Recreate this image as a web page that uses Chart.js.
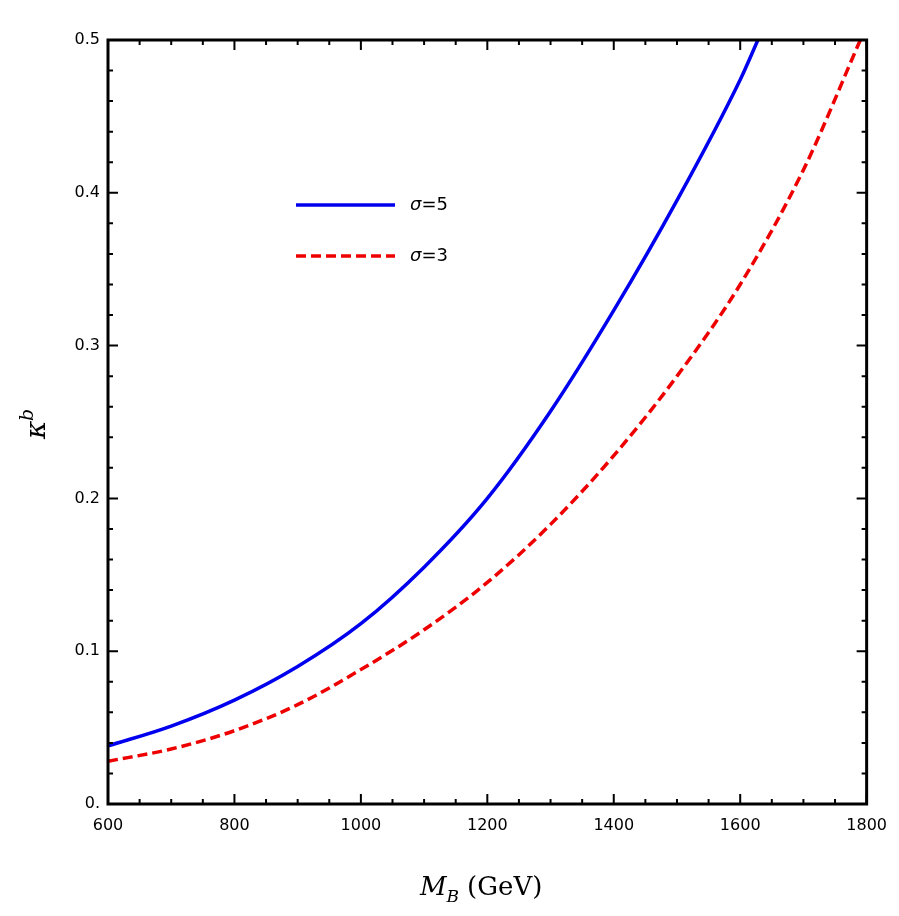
<!DOCTYPE html>
<html><head><meta charset="utf-8">
<script src="https://cdn.jsdelivr.net/npm/chart.js@4"></script>
<style>body{margin:0;background:#fff}#wrap{width:899px;height:916px}</style>
</head><body><div id="wrap"><canvas id="c"></canvas></div>
<script>
// values
const massBlue = [600, 700, 800, 900, 1000, 1100, 1200, 1300, 1400, 1500, 1600, 1628];
const kappaBlue = [0.038, 0.051, 0.068, 0.090, 0.118, 0.155, 0.200, 0.257, 0.323, 0.395, 0.474, 0.5];
const massRed = [600, 700, 800, 900, 1000, 1100, 1200, 1300, 1400, 1500, 1600, 1700, 1790];
const kappaRed = [0.028, 0.036, 0.048, 0.065, 0.088, 0.114, 0.145, 0.183, 0.228, 0.280, 0.340, 0.415, 0.5];
const xTicks = [600, 800, 1000, 1200, 1400, 1600, 1800];
const yTicks = [0, 0.1, 0.2, 0.3, 0.4, 0.5];

const pts = (xs, ys) => xs.map((x, i) => ({x: x, y: ys[i]}));

// frame, inward ticks, legend and axis titles
const decor = {
    id: 'decor',
    afterDraw(chart) {
        const ctx = chart.ctx, a = chart.chartArea;
        const xs = chart.scales.x, ys = chart.scales.y;
        ctx.save();
        ctx.strokeStyle = '#000';
        ctx.lineWidth = 2;
        for (let v = 600; v <= 1800; v += 50) {
            const p = xs.getPixelForValue(v), len = v % 200 === 0 ? 10 : 5;
            ctx.beginPath();
            ctx.moveTo(p, a.bottom); ctx.lineTo(p, a.bottom - len);
            ctx.moveTo(p, a.top); ctx.lineTo(p, a.top + len);
            ctx.stroke();
        }
        for (let i = 0; i <= 25; i++) {
            const v = i * 0.02, p = ys.getPixelForValue(v), len = i % 5 === 0 ? 10 : 5;
            ctx.beginPath();
            ctx.moveTo(a.left, p); ctx.lineTo(a.left + len, p);
            ctx.moveTo(a.right, p); ctx.lineTo(a.right - len, p);
            ctx.stroke();
        }
        ctx.lineWidth = 3;
        ctx.strokeRect(a.left, a.top, a.right - a.left, a.bottom - a.top);

        // legend
        ctx.lineWidth = 3.5;
        ctx.strokeStyle = '#0000ee';
        ctx.beginPath(); ctx.moveTo(296, 205); ctx.lineTo(395, 205); ctx.stroke();
        ctx.strokeStyle = '#ee0000';
        ctx.setLineDash([10, 5]);
        ctx.beginPath(); ctx.moveTo(296, 256); ctx.lineTo(395, 256); ctx.stroke();
        ctx.setLineDash([]);
        ctx.fillStyle = '#000';
        ctx.textBaseline = 'middle';
        [['5', 205], ['3', 256]].forEach(([n, y]) => {
            ctx.font = 'italic 18px "DejaVu Sans"';
            ctx.fillText('σ', 410, y);
            const w = ctx.measureText('σ').width;
            ctx.font = '18px "DejaVu Sans"';
            ctx.fillText('=' + n, 410 + w, y);
        });

        // x title
        ctx.textBaseline = 'alphabetic';
        ctx.font = 'italic 26px "DejaVu Serif"';
        ctx.fillText('M', 420, 895);
        let x = 420 + ctx.measureText('M').width;
        ctx.font = 'italic 17px "DejaVu Serif"';
        ctx.fillText('B', x, 902);
        x += ctx.measureText('B').width + 8;
        ctx.font = '26px "DejaVu Serif"';
        ctx.fillText('(GeV)', x, 895);

        // y title
        ctx.translate(45, 425);
        ctx.rotate(-Math.PI / 2);
        ctx.font = 'italic 28px "DejaVu Serif"';
        ctx.fillText('κ', -14, 0);
        ctx.font = 'italic 19px "DejaVu Serif"';
        ctx.fillText('b', 4, -12);
        ctx.restore();
    }
};

new Chart(document.getElementById('c'), {
    type: 'scatter',
    data: {
        datasets: [
            {data: pts(massBlue, kappaBlue), showLine: true, borderColor: '#0000ee', borderWidth: 3.5,
             pointRadius: 0, cubicInterpolationMode: 'monotone'},
            {data: pts(massRed, kappaRed), showLine: true, borderColor: '#ee0000', borderWidth: 3.5,
             borderDash: [10, 5], pointRadius: 0, cubicInterpolationMode: 'monotone'}
        ]
    },
    options: {
        responsive: true,
        maintainAspectRatio: false,
        animation: false,
        layout: {padding: {top: 40, right: 20, left: 0, bottom: 0}},
        plugins: {legend: {display: false}, tooltip: {enabled: false}},
        scales: {
            x: {
                type: 'linear', min: 600, max: 1800,
                afterBuildTicks: s => { s.ticks = xTicks.map(v => ({value: v})); },
                afterFit: s => { s.height = 112; },
                grid: {display: false, drawTicks: false},
                border: {display: false},
                ticks: {color: '#000', padding: 12, font: {family: 'DejaVu Sans', size: 16}, maxRotation: 0,
                        callback: v => String(v)}
            },
            y: {
                min: 0, max: 0.5,
                afterBuildTicks: s => { s.ticks = yTicks.map(v => ({value: v})); },
                afterFit: s => { s.width = 108; },
                grid: {display: false, drawTicks: false},
                border: {display: false},
                ticks: {color: '#000', padding: 8, font: {family: 'DejaVu Sans', size: 16},
                        callback: v => v === 0 ? '0.' : v.toFixed(1)}
            }
        }
    },
    plugins: [decor]
});
</script></body></html>
